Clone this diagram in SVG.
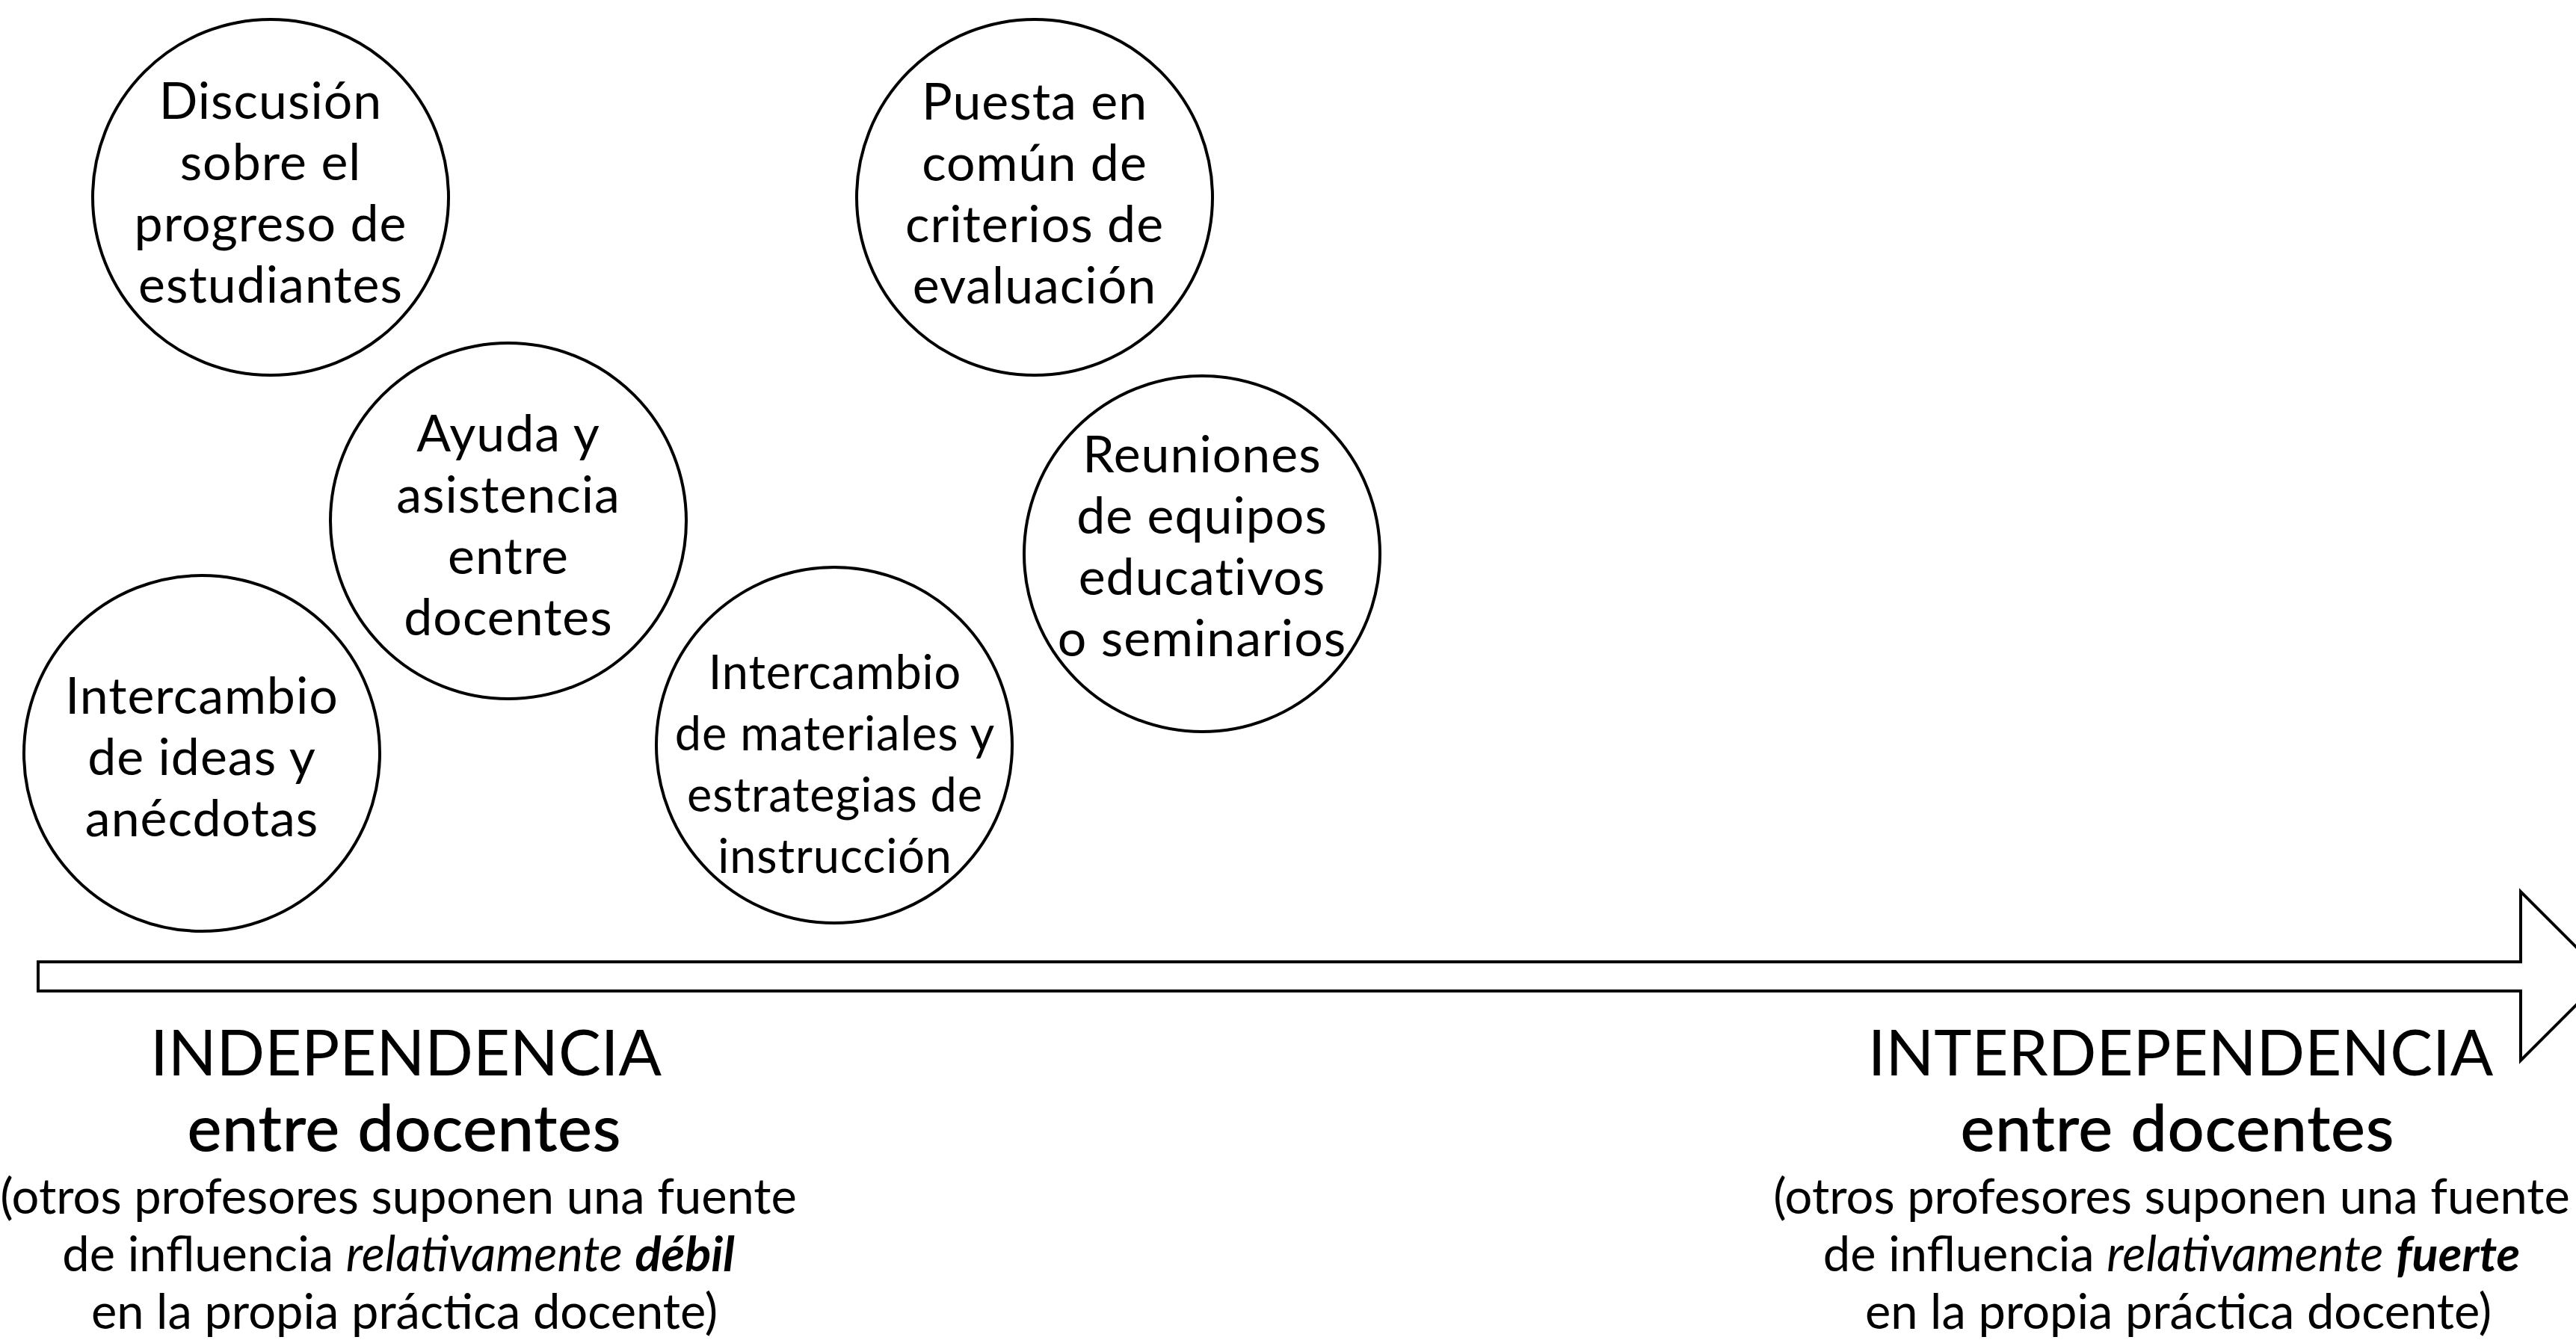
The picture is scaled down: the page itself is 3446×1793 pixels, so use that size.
<svg xmlns="http://www.w3.org/2000/svg" width="3446" height="1793" viewBox="0 0 3446 1793">
<style>
.n{fill:#fff;stroke:#000;stroke-width:4}
.t{font-family:Lato,"Noto Sans",sans-serif;font-size:68px;letter-spacing:1px;fill:#000;text-anchor:middle}
.s{font-size:63px;letter-spacing:0.9px}
.h{font-family:Lato,"Noto Sans",sans-serif;font-size:85px;fill:#000;text-anchor:middle}
.h2{font-size:86px;letter-spacing:1.2px;stroke:#000;stroke-width:1.2px}
.p{font-family:Lato,"Noto Sans",sans-serif;font-size:65px;fill:#000;text-anchor:middle}
.i{font-style:italic}
.b{font-style:italic;font-weight:bold}
</style>
<rect width="3446" height="1793" fill="#fff"/>
<g id="connectors">
<polygon class="n" points="51,1287 3372,1287 3372,1193 3485,1306 3372,1419 3372,1326 51,1326"/>
</g>
<g id="n1">
<circle class="n" cx="362" cy="264" r="238"/>
<text class="t"><tspan x="362" y="159">Discusión</tspan><tspan x="362" y="241">sobre el</tspan><tspan x="362" y="323">progreso de</tspan><tspan x="362" y="405">estudiantes</tspan></text>
</g>
<g id="n2">
<circle class="n" cx="680" cy="697" r="238"/>
<text class="t"><tspan x="680" y="604">Ayuda y</tspan><tspan x="680" y="686">asistencia</tspan><tspan x="680" y="768">entre</tspan><tspan x="680" y="850">docentes</tspan></text>
</g>
<g id="n3">
<circle class="n" cx="270" cy="1008" r="238"/>
<text class="t"><tspan x="270" y="955">Intercambio</tspan><tspan x="270" y="1037">de ideas y</tspan><tspan x="270" y="1119">anécdotas</tspan></text>
</g>
<g id="n4">
<circle class="n" cx="1384" cy="264" r="238"/>
<text class="t"><tspan x="1384" y="160">Puesta en</tspan><tspan x="1384" y="242">común de</tspan><tspan x="1384" y="324">criterios de</tspan><tspan x="1384" y="406">evaluación</tspan></text>
</g>
<g id="n5">
<circle class="n" cx="1608" cy="741" r="238"/>
<text class="t"><tspan x="1608" y="632">Reuniones</tspan><tspan x="1608" y="714">de equipos</tspan><tspan x="1608" y="796">educativos</tspan><tspan x="1608" y="878">o seminarios</tspan></text>
</g>
<g id="n6">
<circle class="n" cx="1116" cy="997" r="238"/>
<text class="t s"><tspan x="1117" y="922">Intercambio</tspan><tspan x="1117" y="1004">de materiales y</tspan><tspan x="1117" y="1086">estrategias de</tspan><tspan x="1117" y="1168">instrucción</tspan></text>
</g>
<g id="left-label">
<text class="h" x="543" y="1439">INDEPENDENCIA</text>
<text class="h h2" x="541" y="1540">entre docentes</text>
<text class="p"><tspan x="533" y="1624">(otros profesores suponen una fuente</tspan><tspan x="533" y="1701">de influencia <tspan class="i">relativamente</tspan> <tspan class="b">débil</tspan></tspan><tspan x="541" y="1778">en la propia práctica docente)</tspan></text>
</g>
<g id="right-label">
<text class="h" x="2917" y="1439">INTERDEPENDENCIA</text>
<text class="h h2" x="2913" y="1540">entre docentes</text>
<text class="p"><tspan x="2905" y="1624">(otros profesores suponen una fuente</tspan><tspan x="2905" y="1701">de influencia <tspan class="i">relativamente</tspan> <tspan class="b">fuerte</tspan></tspan><tspan x="2914" y="1778">en la propia práctica docente)</tspan></text>
</g>
</svg>
